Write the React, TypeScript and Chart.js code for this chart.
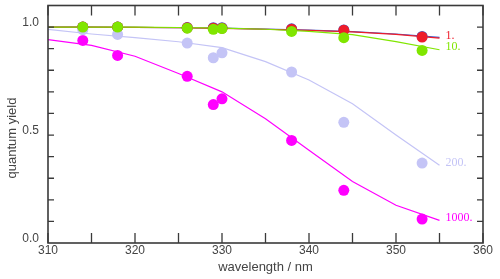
import React, { useEffect, useRef } from "react";
import { Chart, registerables } from "chart.js";

Chart.register(...registerables);

const wavelengths = [314, 318, 326, 329, 330, 338, 344, 353];
const fitWavelengths = [310, 315, 320, 325, 330, 335, 340, 345, 350, 355];

const pts0 = [1.0, 1.0, 0.998, 0.997, 0.997, 0.992, 0.987, 0.957];
const pts1 = [1.0, 1.0, 0.997, 0.995, 0.995, 0.99, 0.985, 0.954];
const pts10 = [1.0, 1.0, 0.995, 0.99, 0.993, 0.98, 0.951, 0.892];
const pts200 = [0.988, 0.966, 0.926, 0.858, 0.881, 0.792, 0.559, 0.37];
const pts1000 = [0.938, 0.869, 0.772, 0.641, 0.668, 0.475, 0.244, 0.111];

const fit0 = [1.0, 1.0, 0.999, 0.997, 0.995, 0.991, 0.986, 0.979, 0.968, 0.952];
const fit1 = [1.0, 1.0, 0.999, 0.997, 0.994, 0.99, 0.985, 0.978, 0.966, 0.949];
const fit10 = [1.0, 1.0, 1.0, 0.998, 0.995, 0.99, 0.98, 0.965, 0.933, 0.895];
const fit200 = [0.989, 0.968, 0.951, 0.932, 0.905, 0.84, 0.755, 0.645, 0.5, 0.36];
const fit1000 = [0.942, 0.915, 0.865, 0.785, 0.7, 0.575, 0.43, 0.285, 0.175, 0.105];

const xTicksMajor = [310, 320, 330, 340, 350, 360];
const xTicksMinor = [315, 325, 335, 345, 355];
const yTickLabels = [0.0, 0.5, 1.0];
const yTicksAll = [0.1, 0.2, 0.3, 0.4, 0.5, 0.6, 0.7, 0.8, 0.9, 1.0];

const seriesLabels = ["", "1.", "10.", "200.", "1000."];
const colors = ["#3a5fd0", "#ee1c2a", "#80e600", "#c4c4f6", "#ff00ff"];
const pointSets = [pts0, pts1, pts10, pts200, pts1000];
const fitSets = [fit0, fit1, fit10, fit200, fit1000];
const drawOrder = [4, 3, 1, 2, 2];

const FONT = "'Liberation Sans', Arial, sans-serif";

const framePlugin = {
  id: "frame",
  afterDatasetsDraw(chart: any) {
    const { ctx, chartArea } = chart;
    const xs = chart.scales.x;
    const ys = chart.scales.y;
    const { left, right, top, bottom } = chartArea;
    ctx.save();
    ctx.strokeStyle = "#3a3a3a";
    ctx.lineWidth = 1.6;
    ctx.strokeRect(left, top, right - left, bottom - top);
    ctx.lineWidth = 1.3;
    ctx.beginPath();
    [...xTicksMajor, ...xTicksMinor].forEach((v) => {
      const px = xs.getPixelForValue(v);
      ctx.moveTo(px, bottom);
      ctx.lineTo(px, bottom - 10);
      ctx.moveTo(px, top);
      ctx.lineTo(px, top + 10);
    });
    yTicksAll.forEach((v) => {
      const py = ys.getPixelForValue(v);
      ctx.moveTo(left, py);
      ctx.lineTo(left + 6, py);
      ctx.moveTo(right, py);
      ctx.lineTo(right - 6, py);
    });
    ctx.stroke();

    ctx.fillStyle = "#444";
    ctx.font = `12px ${FONT}`;
    ctx.textAlign = "center";
    ctx.textBaseline = "middle";
    xTicksMajor.forEach((v) => {
      ctx.fillText(String(v), xs.getPixelForValue(v), bottom + 8);
    });
    ctx.textAlign = "right";
    yTickLabels.forEach((v) => {
      ctx.fillText(v.toFixed(1), left - 9, ys.getPixelForValue(v) - 4);
    });

    ctx.font = `13px ${FONT}`;
    ctx.textAlign = "center";
    ctx.fillText("wavelength / nm", (left + right) / 2, 267);
    ctx.save();
    ctx.translate(12, 138);
    ctx.rotate(-Math.PI / 2);
    ctx.fillText("quantum yield", 0, 0);
    ctx.restore();

    ctx.font = `12px 'Liberation Serif', 'Times New Roman', serif`;
    ctx.textAlign = "left";
    seriesLabels.forEach((lab, i) => {
      if (!lab) return;
      const fit = fitSets[i];
      const lastX = fitWavelengths[fitWavelengths.length - 1];
      const px = xs.getPixelForValue(lastX) + 6;
      const py = ys.getPixelForValue(fit[fit.length - 1]) - 2.5;
      ctx.fillStyle = colors[i];
      ctx.fillText(lab, px, py);
    });
    ctx.restore();
  },
};

export default function App() {
  const ref = useRef<HTMLCanvasElement | null>(null);
  useEffect(() => {
    document.body.style.margin = "0";
    if (!ref.current) return;
    const datasets: any[] = [];
    fitSets.forEach((fit, i) => {
      datasets.push({
        label: "fit" + i,
        data: fitWavelengths.map((x, k) => ({ x, y: fit[k] })),
        showLine: true,
        borderColor: colors[i],
        borderWidth: 1.2,
        pointRadius: 0,
        fill: false,
        tension: 0,
        order: drawOrder[i] + 10,
      });
    });
    pointSets.forEach((pts, i) => {
      datasets.push({
        label: "pts" + i,
        data: wavelengths.map((x, k) => ({ x, y: pts[k] })),
        showLine: false,
        backgroundColor: colors[i],
        borderColor: colors[i],
        borderWidth: 0,
        pointRadius: 5.5,
        order: drawOrder[i],
      });
    });
    const chart = new Chart(ref.current, {
      type: "scatter",
      data: { datasets },
      options: {
        animation: false,
        responsive: false,
        maintainAspectRatio: false,
        layout: { padding: { left: 48, right: 17, top: 5, bottom: 36 } },
        plugins: { legend: { display: false }, tooltip: { enabled: false } },
        scales: {
          x: { type: "linear", min: 310, max: 360, display: false },
          y: { type: "linear", min: 0, max: 1.1, display: false },
        },
      },
      plugins: [framePlugin],
    });
    return () => chart.destroy();
  }, []);
  return (
    <div style={{ width: 500, height: 279 }}>
      <canvas ref={ref} width={500} height={279} style={{ display: "block" }} />
    </div>
  );
}
